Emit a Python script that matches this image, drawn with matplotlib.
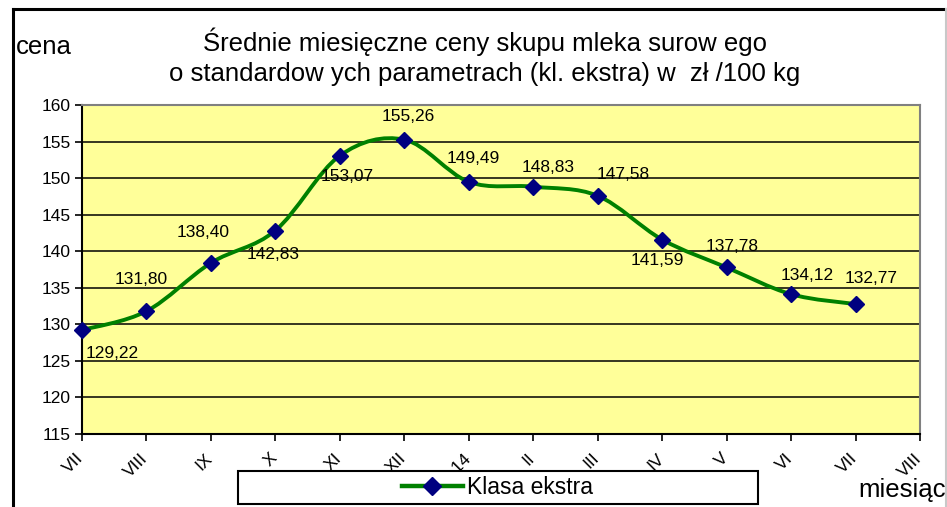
import numpy as np
import matplotlib
matplotlib.use("Agg")
import matplotlib.pyplot as plt
import matplotlib.transforms as mtransforms
from matplotlib.path import Path
from matplotlib.patches import PathPatch, Rectangle
from matplotlib.lines import Line2D

plt.rcParams["font.family"] = ["Liberation Sans", "DejaVu Sans"]

# ── data ───────────────────────────────────────────────────────────────────────
months = ["VII", "VIII", "IX", "X", "XI", "XII", "I-14", "II", "III", "IV", "V", "VI", "VII", "VIII"]
prices = [129.22, 131.80, 138.40, 142.83, 153.07, 155.26, 149.49, 148.83,
          147.58, 141.59, 137.78, 134.12, 132.77]
y_ticks = [115, 120, 125, 130, 135, 140, 145, 150, 155, 160]
title_1 = "Średnie miesięczne ceny skupu mleka surow ego"
title_2 = "o standardow ych parametrach (kl. ekstra) w  zł /100 kg"
series_name = "Klasa ekstra"

# label offsets in pixels (x right, y up)
label_off = [(30, -23), (-5, 32), (-8, 30), (-2, -24), (7, -21), (4, 23), (4, 23),
             (15, 19), (25, 21), (-5, -21), (5, 21), (16, 19), (16, 26)]

GREEN = "#008000"
NAVY = "#000080"


def smooth_path(xs, ys):
    # Excel-like smoothed line: cubic bezier with catmull-rom tangents
    n = len(xs)
    verts = [(xs[0], ys[0])]
    codes = [Path.MOVETO]
    for i in range(n - 1):
        a = max(i - 1, 0)
        b = min(i + 2, n - 1)
        c1 = (xs[i] + (xs[i + 1] - xs[a]) / 6, ys[i] + (ys[i + 1] - ys[a]) / 6)
        c2 = (xs[i + 1] - (xs[b] - xs[i]) / 6, ys[i + 1] - (ys[b] - ys[i]) / 6)
        verts += [c1, c2, (xs[i + 1], ys[i + 1])]
        codes += [Path.CURVE4] * 3
    return Path(verts, codes)


fig = plt.figure(figsize=(9.47, 5.07), dpi=100)
ax = fig.add_axes([0.0866, 0.1440, 0.8849, 0.6489])
ax.set_facecolor("#FFFF99")

x = np.arange(len(prices))
ax.add_patch(PathPatch(smooth_path(x, prices), facecolor="none", edgecolor=GREEN,
                       lw=2.8, zorder=3))
ax.plot(x, prices, linestyle="none", marker="D", ms=8, color=NAVY, zorder=4,
        clip_on=False)

for xi, v, (dx, dy) in zip(x, prices, label_off):
    ax.annotate(f"{v:.2f}".replace(".", ","), (xi, v), xytext=(dx, dy),
                textcoords="offset pixels", ha="center", va="center",
                fontsize=12.5, zorder=5)

ax.set_xlim(0, len(months) - 1)
ax.set_ylim(115, 160)
ax.set_yticks(y_ticks)
ax.set_yticklabels([str(t) for t in y_ticks], fontsize=12.5)
ax.set_xticks(np.arange(len(months)))
ax.set_xticklabels(months, fontsize=12.5, rotation=45, ha="right", va="top",
                   rotation_mode="anchor")
ax.tick_params(axis="both", direction="out", length=5, width=1.2, color="black")
ax.tick_params(axis="x", pad=7)
ax.tick_params(axis="y", pad=3)
shift = mtransforms.ScaledTranslation(-6 / 100, 0, fig.dpi_scale_trans)
for lab in ax.get_xticklabels():
    lab.set_transform(lab.get_transform() + shift)
ax.grid(axis="y", color="black", lw=1.1)
ax.set_axisbelow(True)
for s in ["top", "right"]:
    ax.spines[s].set_color("#808080")
    ax.spines[s].set_linewidth(1.5)
for s in ["left", "bottom"]:
    ax.spines[s].set_color("black")
    ax.spines[s].set_linewidth(1.5)

# titles and axis names
fig.text(0.512, 0.917, title_1, ha="center", va="center", fontsize=18.5)
fig.text(0.512, 0.854, title_2, ha="center", va="center", fontsize=18.5)
fig.text(0.017, 0.907, "cena", ha="left", va="center", fontsize=18.5)
fig.text(0.906, 0.034, "miesiąc", ha="left", va="center", fontsize=18.5)

# legend box
fig.patches.append(Rectangle((0.2513, 0.006), 0.5492, 0.065, transform=fig.transFigure,
                             facecolor="white", edgecolor="black", lw=1.5, zorder=5))
handle = Line2D([], [], color=GREEN, lw=3.2, marker="D", ms=9, mfc=NAVY, mec=NAVY)
leg = fig.legend([handle], [series_name], loc="center", bbox_to_anchor=(0.525, 0.038),
                 frameon=False, fontsize=16.5, handlelength=2.7, handletextpad=0.15)
leg.set_zorder(6)

# outer chart frame
fig.add_artist(Line2D([0.0137, 0.0137], [0, 0.982], color="black", lw=2.2,
                      transform=fig.transFigure))
fig.add_artist(Line2D([0.0137, 1.0], [0.982, 0.982], color="black", lw=2.2,
                      transform=fig.transFigure))
fig.add_artist(Line2D([0.9985, 0.9985], [0, 0.982], color="#c8c8c8", lw=1.5,
                      transform=fig.transFigure))

fig.savefig("out.png", dpi=100)
plt.close(fig)
